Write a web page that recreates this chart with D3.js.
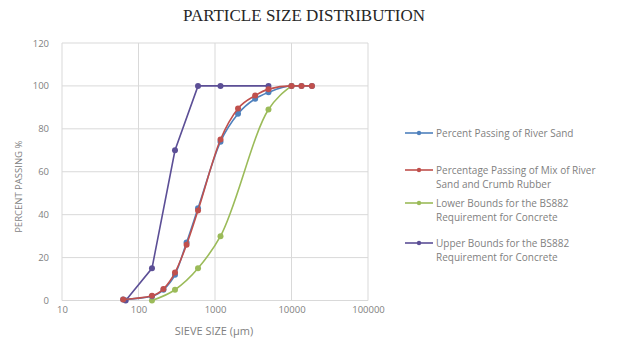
<!DOCTYPE html>
<html>
<head>
<meta charset="utf-8">
<script src="https://cdn.jsdelivr.net/npm/d3@7"></script>
<style>
  body { margin: 0; background: #fff; }
  svg text { font-family: "Open Sans", "Noto Sans", sans-serif; }
</style>
</head>
<body>
<div id="chart"></div>
<script>
// sieve sizes (µm) and percent passing
const riverSandSizes = [63, 150, 212, 300, 425, 600, 1180, 2000, 3350, 5000, 10000, 13500, 18500];
const riverSandPassing = [0.5, 2, 5, 12, 27, 43, 74, 87, 94, 97, 100, 100, 100];

const mixSizes = [63, 150, 212, 300, 425, 600, 1180, 2000, 3350, 5000, 10000, 13500, 18500];
const mixPassing = [0.5, 2.2, 5.4, 13, 26, 42, 75, 89.5, 95.5, 98.5, 100, 100, 100];

const lowerSizes = [150, 300, 600, 1180, 5000, 10000];
const lowerPassing = [0, 5, 15, 30, 89, 100];

const upperSizes = [68, 150, 300, 600, 1180, 5000];
const upperPassing = [0, 15, 70, 100, 100, 100];

const seriesNames = [
  ["Percent Passing of River Sand"],
  ["Percentage Passing of Mix of River", "Sand and Crumb Rubber"],
  ["Lower Bounds for the BS882", "Requirement for Concrete"],
  ["Upper Bounds for the BS882", "Requirement for Concrete"]
];
const seriesColors = ["#4f81bd", "#c0504d", "#9bbb59", "#5c4f96"];

const xTicks = [10, 100, 1000, 10000, 100000];
const yTicks = [0, 20, 40, 60, 80, 100, 120];

const W = 623, H = 347;
const svg = d3.select("#chart").append("svg").attr("width", W).attr("height", H);

const x = d3.scaleLog().domain([10, 100000]).range([62, 368]);
const y = d3.scaleLinear().domain([0, 120]).range([300.5, 43]);

// gridlines
svg.append("g").selectAll("line").data(yTicks).enter().append("line")
  .attr("x1", x(10)).attr("x2", x(100000))
  .attr("y1", d => y(d)).attr("y2", d => y(d))
  .attr("stroke", "#d9d9d9").attr("stroke-width", 1);
svg.append("g").selectAll("line").data(xTicks).enter().append("line")
  .attr("y1", y(0)).attr("y2", y(120))
  .attr("x1", d => x(d)).attr("x2", d => x(d))
  .attr("stroke", "#d9d9d9").attr("stroke-width", 1);

// axes (labels only)
const yAxis = svg.append("g").attr("transform", `translate(${x(10) - 10},0)`)
  .call(d3.axisLeft(y).tickValues(yTicks).tickSize(0).tickPadding(3));
const xAxis = svg.append("g").attr("transform", `translate(0,${y(0) + 2})`)
  .call(d3.axisBottom(x).tickValues(xTicks).tickFormat(d3.format("d")).tickSize(0).tickPadding(4));
[xAxis, yAxis].forEach(a => {
  a.select(".domain").remove();
  a.selectAll("text").attr("fill", "#7f7f7f").attr("font-size", "9.5px")
    .style("font-family", "'Open Sans', sans-serif");
});

// series
const series = [
  riverSandSizes.map((s, i) => [s, riverSandPassing[i]]),
  mixSizes.map((s, i) => [s, mixPassing[i]]),
  lowerSizes.map((s, i) => [s, lowerPassing[i]]),
  upperSizes.map((s, i) => [s, upperPassing[i]])
];
const curves = [d3.curveMonotoneX, d3.curveMonotoneX, d3.curveMonotoneX, d3.curveLinear];
const drawOrder = [2, 3, 0, 1];

drawOrder.forEach(k => {
  const line = d3.line().x(d => x(d[0])).y(d => y(d[1])).curve(curves[k]);
  const g = svg.append("g");
  g.append("path").datum(series[k])
    .attr("d", line)
    .attr("fill", "none")
    .attr("stroke", seriesColors[k])
    .attr("stroke-width", 1.6);
  g.selectAll("circle").data(series[k]).enter().append("circle")
    .attr("cx", d => x(d[0])).attr("cy", d => y(d[1]))
    .attr("r", 3)
    .attr("fill", seriesColors[k]);
});

// title
svg.append("text")
  .attr("x", 304).attr("y", 21)
  .attr("text-anchor", "middle")
  .attr("font-size", "17px")
  .style("font-family", "'Liberation Serif', 'DejaVu Serif', serif")
  .attr("fill", "#262626")
  .text("PARTICLE SIZE DISTRIBUTION");

// axis titles
svg.append("text")
  .attr("x", 214).attr("y", 335)
  .attr("text-anchor", "middle")
  .attr("font-size", "11px")
  .attr("fill", "#7f7f7f")
  .text("SIEVE SIZE (µm)");

svg.append("text")
  .attr("transform", `translate(22,${y(53)}) rotate(-90)`)
  .attr("text-anchor", "middle")
  .attr("font-size", "9.5px")
  .attr("fill", "#7f7f7f")
  .text("PERCENT PASSING %");

// legend
const legendY = [133, 170, 203, 243];
const legend = svg.append("g");
seriesNames.forEach((lines, k) => {
  const ly = legendY[k];
  legend.append("line")
    .attr("x1", 405).attr("x2", 433).attr("y1", ly).attr("y2", ly)
    .attr("stroke", seriesColors[k]).attr("stroke-width", 1.6);
  legend.append("circle").attr("cx", 419).attr("cy", ly).attr("r", 2.2).attr("fill", seriesColors[k]);
  lines.forEach((t, j) => {
    legend.append("text")
      .attr("x", 436).attr("y", ly + 3.5 + j * 14.5)
      .attr("font-size", "10px")
      .attr("fill", "#7f7f7f")
      .text(t);
  });
});
</script>
</body>
</html>
